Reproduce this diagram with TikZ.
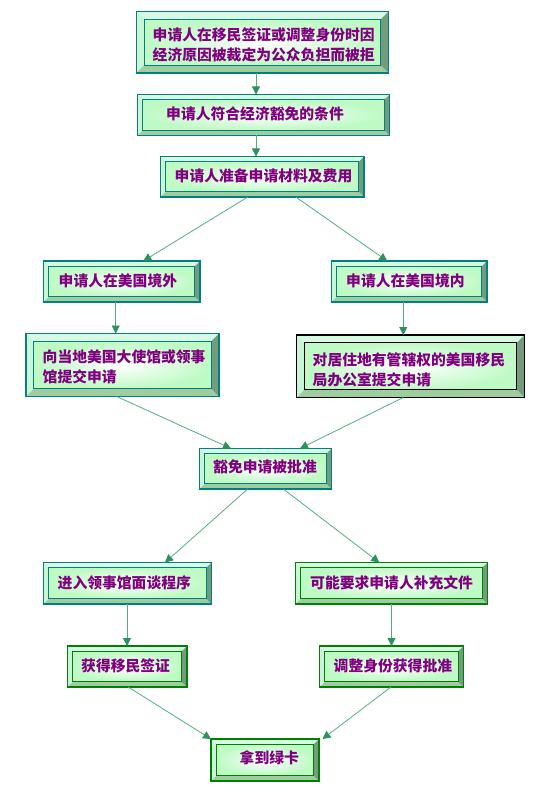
\documentclass[tikz,border=0pt]{standalone}
\usepackage{fontspec}
\newfontfamily\cjk{Noto Sans CJK SC}
\usetikzlibrary{arrows.meta,fit}
\definecolor{tealb}{RGB}{0,128,128}
\definecolor{greenb}{RGB}{0,128,0}
\definecolor{topc}{RGB}{214,250,226}
\definecolor{leftc}{RGB}{200,245,214}
\definecolor{botc}{RGB}{160,205,160}
\definecolor{rightc}{RGB}{115,155,125}
\definecolor{facec}{RGB}{190,250,196}
\definecolor{linec}{RGB}{80,175,125}
\definecolor{tipc}{RGB}{46,145,95}
\definecolor{txtc}{RGB}{128,0,128}
\tikzset{
  arr/.style={draw=linec, line width=0.8pt, -{Triangle[length=8pt,width=8pt,color=tipc]}},
  lbl/.style={anchor=west, inner sep=0pt, text=txtc, font=\cjk\bfseries\fontsize{14.8pt}{20pt}\selectfont, align=left},
  holder/.style={inner sep=0pt, outer sep=0pt}
}
\newcommand\bevbox[7]{%
  \path (#2,#3) coordinate (#1-a) (#4,#5) coordinate (#1-b);
  \node[holder, fit=(#1-a)(#1-b)] (#1) {};
  \shade[inner color=white, outer color=facec] ({#2+#6},{#3+#6}) rectangle ({#4-#6},{#5-#6});
  \fill[topc] (#2,#3) -- (#4,#3) -- ({#4-#6},{#3+#6}) -- ({#2+#6},{#3+#6}) -- cycle;
  \fill[leftc] (#2,#3) -- ({#2+#6},{#3+#6}) -- ({#2+#6},{#5-#6}) -- (#2,#5) -- cycle;
  \fill[botc] (#2,#5) -- ({#2+#6},{#5-#6}) -- ({#4-#6},{#5-#6}) -- (#4,#5) -- cycle;
  \fill[rightc] (#4,#3) -- (#4,#5) -- ({#4-#6},{#5-#6}) -- ({#4-#6},{#3+#6}) -- cycle;
  \draw[#7, line width=0.9pt] ({#2+#6},{#3+#6}) rectangle ({#4-#6},{#5-#6});
  \draw[#7, line width=1.2pt] (#2,#3) rectangle (#4,#5);
}
\begin{document}
\begin{tikzpicture}[x=1pt,y=-1pt]
\useasboundingbox (0,0) rectangle (555,799);
\bevbox{b1}{136.5}{11.5}{388.5}{73}{7.8}{tealb}
\bevbox{b2}{137.5}{94.5}{389.5}{135.5}{5.2}{tealb}
\bevbox{b3}{160.5}{156.5}{364}{197}{5.1}{tealb}
\bevbox{b4}{43.5}{261}{200}{302}{5.2}{tealb}
\bevbox{b5}{331.5}{261}{487}{302}{5.2}{tealb}
\bevbox{b6}{26}{333.5}{219}{396.5}{7.8}{tealb}
\bevbox{b7}{296.5}{335}{524.5}{397.5}{7.8}{black}
\bevbox{b8}{199.5}{448.5}{331.5}{489}{5.1}{tealb}
\bevbox{b9}{43.5}{562.5}{211.5}{604}{5.2}{tealb}
\bevbox{b10}{295.5}{562.5}{487.5}{604}{5.2}{greenb}
\bevbox{b11}{67.5}{646}{187}{687}{5.1}{greenb}
\bevbox{b12}{319.5}{646}{463.5}{687}{5.1}{greenb}
\bevbox{b13}{211}{739}{319}{781}{5.2}{greenb}

\node[lbl] (t1) at (152.5,45) {申请人在移民签证或调整身份时因\\经济原因被裁定为公众负担而被拒};
\node[lbl] (t2) at (166,113.5) {申请人符合经济豁免的条件};
\node[lbl] (t3) at (174.5,176) {申请人准备申请材料及费用};
\node[lbl] (t4) at (58.5,280.5) {申请人在美国境外};
\node[lbl] (t5) at (346,280.5) {申请人在美国境内};
\node[lbl] (t6) at (42.5,366.5) {向当地美国大使馆或领事\\馆提交申请};
\node[lbl] (t7) at (312.5,369.5) {对居住地有管辖权的美国移民\\局办公室提交申请};
\node[lbl] (t8) at (213,467) {豁免申请被批准};
\node[lbl] (t9) at (57.5,583) {进入领事馆面谈程序};
\node[lbl] (t10) at (310,583) {可能要求申请人补充文件};
\node[lbl] (t11) at (81,666) {获得移民签证};
\node[lbl] (t12) at (333.5,666) {调整身份获得批准};
\node[lbl] (t13) at (239.5,757.5) {拿到绿卡};

\draw[arr] ([xshift=-6.5pt]b1.south) -- ([xshift=-6.5pt]b1.south |- b2.north);
\draw[arr] ([xshift=-7.5pt]b2.south) -- ([xshift=-7.5pt]b2.south |- b3.north);
\draw[arr] ([xshift=-14.5pt]b3.south) -- ([xshift=21.5pt]b4.north);
\draw[arr] ([xshift=33.5pt]b3.south) -- ([xshift=-22pt]b5.north);
\draw[arr] ([xshift=-6pt]b4.south) -- ([xshift=-6pt]b4.south |- b6.north);
\draw[arr] ([xshift=-6pt]b5.south) -- ([xshift=-6pt]b5.south |- b7.north);
\draw[arr] ([xshift=-5.8pt]b6.south) -- ([xshift=-34.5pt]b8.north);
\draw[arr] ([xshift=-7.2pt]b7.south) -- ([xshift=34.5pt]b8.north);
\draw[arr] ([xshift=-17.8pt]b8.south) -- ([xshift=37.5pt]b9.north);
\draw[arr] ([xshift=17.8pt]b8.south) -- ([xshift=-12.2pt]b10.north);
\draw[arr] ([xshift=-0.5pt]b9.south) -- ([xshift=-0.5pt]b9.south |- b11.north);
\draw[arr] ([xshift=0pt]b10.south) -- ([xshift=0pt]b10.south |- b12.north);
\draw[arr] ([xshift=1pt]b11.south) -- (b13.north west);
\draw[arr] ([xshift=-0.5pt]b12.south) -- ([xshift=3.5pt]b13.north east);
\end{tikzpicture}
\end{document}
